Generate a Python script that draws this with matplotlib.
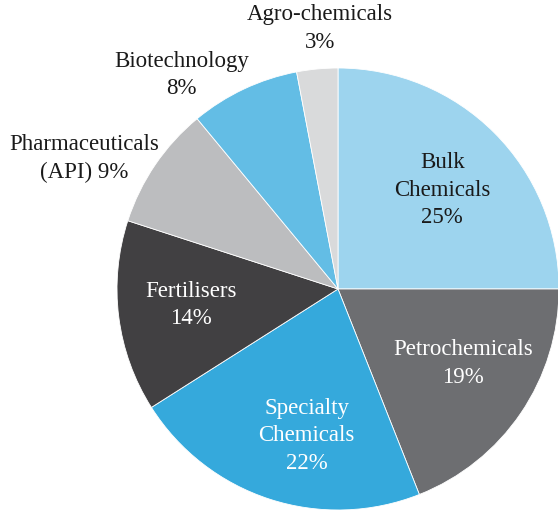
import matplotlib
matplotlib.use("Agg")
import matplotlib.pyplot as plt
import numpy as np

# chart data
labels = ["Bulk\nChemicals", "Petrochemicals", "Specialty\nChemicals", "Fertilisers",
          "Pharmaceuticals\n(API)", "Biotechnology", "Agro-chemicals"]
shares = [25, 19, 22, 14, 9, 8, 3]
colors = ["#9dd4ee", "#6d6e71", "#35a9dc", "#414042", "#bcbdbf", "#63bde5", "#d9dadb"]
text_colors = ["#1a1a1a", "white", "white", "white", "#1a1a1a", "#1a1a1a", "#1a1a1a"]
# pct on the same line as the last label line for pharma
pct_sep = ["\n", "\n", "\n", "\n", " ", "\n", "\n"]
# label placement (fraction of radius, angle nudge in degrees)
label_r = [0.65, 0.66, 0.68, 0.67, 1.29, 1.20, 1.18]
label_da = [-1.5, 3.5, 6, -1, 7, 11, -1.5]

W, H = 558, 511
cx, cy, R = 338, 289, 221

fig = plt.figure(figsize=(W / 100, H / 100), dpi=100)
ax = fig.add_axes([(cx - R) / W, (H - cy - R) / H, 2 * R / W, 2 * R / H])

wedges, _ = ax.pie(shares, colors=colors, startangle=90, counterclock=False,
                   radius=1, wedgeprops=dict(edgecolor="white", linewidth=0.6))
ax.set_xlim(-1, 1)
ax.set_ylim(-1, 1)
ax.set_aspect("equal")
ax.axis("off")

for w, lab, s, tc, sep, r, da in zip(wedges, labels, shares, text_colors, pct_sep, label_r, label_da):
    ang = np.deg2rad((w.theta1 + w.theta2) / 2 + da)
    ax.text(r * np.cos(ang), r * np.sin(ang), f"{lab}{sep}{s}%", ha="center", va="center",
            color=tc, fontsize=16.5, family="Liberation Serif", linespacing=1.42, clip_on=False)

fig.savefig("out.png", dpi=100)
